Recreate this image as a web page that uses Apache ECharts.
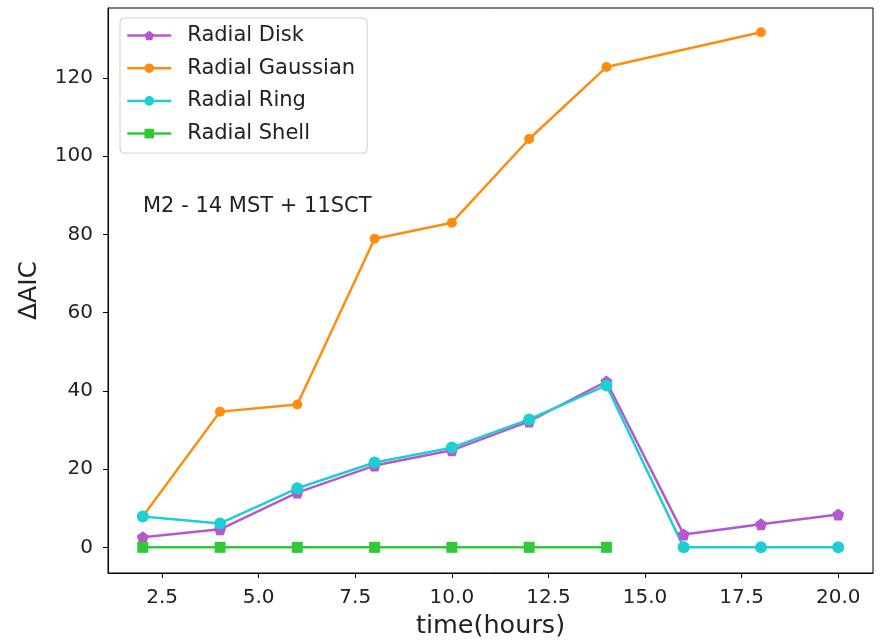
<!DOCTYPE html>
<html>
<head>
<meta charset="utf-8">
<script src="https://cdn.jsdelivr.net/npm/echarts@6/dist/echarts.min.js"></script>
<style>
  html, body { margin: 0; padding: 0; background: #fff; }
  #chart { width: 882px; height: 641px; }
</style>
</head>
<body>
<div id="chart"></div>
<script>
// Time in hours for each fit
const hours = [2, 4, 6, 8, 10, 12, 14, 16, 18, 20];

// ΔAIC per model (null where no fit was made)
const radialDisk     = [2.6, 4.6, 14.0, 20.9, 24.8, 32.2, 42.4, 3.3, 5.9, 8.4];
const radialGaussian = [7.9, 34.7, 36.5, 78.9, 83.0, 104.4, 122.8, null, 131.7, null];
const radialRing     = [7.9, 6.1, 15.1, 21.7, 25.5, 32.7, 41.4, 0, 0, 0];
const radialShell    = [0, 0, 0, 0, 0, 0, 0, null, null, null];

const xTicks = [2.5, 5.0, 7.5, 10.0, 12.5, 15.0, 17.5, 20.0];
const yTicks = [0, 20, 40, 60, 80, 100, 120];

const FONT = 'DejaVu Sans';

function pairs(values) {
  const out = [];
  values.forEach((v, i) => { if (v !== null) out.push([hours[i], v]); });
  return out;
}

const pentagon = 'path://M0,-1 L0.951,-0.309 L0.588,0.809 L-0.588,0.809 L-0.951,-0.309 Z';

function lineSeries(name, values, color, symbol, size) {
  return {
    name: name,
    type: 'line',
    data: pairs(values),
    symbol: symbol,
    symbolSize: size,
    showAllSymbol: true,
    connectNulls: true,
    lineStyle: { color: color, width: 2.5 },
    itemStyle: { color: color },
    emphasis: { disabled: true },
    animation: false
  };
}

const chart = echarts.init(document.getElementById('chart'), null, { renderer: 'canvas' });

chart.setOption({
  backgroundColor: '#ffffff',
  animation: false,
  grid: {
    left: 108, right: 9, top: 8, bottom: 68,
    outerBoundsMode: 'none',
    containLabel: false,
    show: true, borderColor: '#000', borderWidth: 1, backgroundColor: 'transparent'
  },
  legend: {
    left: 120, top: 18,
    orient: 'vertical',
    padding: [7, 12, 9, 6],
    itemWidth: 44, itemHeight: 12, itemGap: 11.7,
    lineStyle: { width: 2.5 },
    backgroundColor: 'rgba(255,255,255,0.8)',
    borderColor: '#d0d0d0', borderWidth: 1, borderRadius: 4,
    textStyle: { fontFamily: FONT, fontSize: 21, color: '#222', lineHeight: 20, padding: [0, 0, 0, 11] },
    data: ['Radial Disk', 'Radial Gaussian', 'Radial Ring', 'Radial Shell']
  },
  xAxis: {
    type: 'value',
    min: 1.1, max: 20.9,
    name: 'time(hours)',
    nameLocation: 'middle',
    nameGap: 40,
    nameTextStyle: { fontFamily: FONT, fontSize: 25.5, color: '#222' },
    axisLine: { show: true, onZero: false, lineStyle: { color: '#000', width: 1 } },
    axisTick: { show: true, inside: false, length: 5, lineStyle: { color: '#000' }, customValues: xTicks },
    axisLabel: {
      fontFamily: FONT, fontSize: 20, color: '#222', margin: 15,
      customValues: xTicks,
      formatter: v => v.toFixed(1)
    },
    splitLine: { show: false }
  },
  yAxis: {
    type: 'value',
    min: -6.56, max: 137.9,
    name: 'ΔAIC',
    nameLocation: 'middle',
    nameGap: 66,
    nameTextStyle: { fontFamily: FONT, fontSize: 25, color: '#222' },
    axisLine: { show: true, onZero: false, lineStyle: { color: '#000', width: 1 } },
    axisTick: { show: true, inside: false, length: 5, lineStyle: { color: '#000' }, customValues: yTicks },
    axisLabel: {
      fontFamily: FONT, fontSize: 20, color: '#222', margin: 15,
      customValues: yTicks,
      formatter: v => String(v)
    },
    splitLine: { show: false }
  },
  graphic: [{
    type: 'text',
    left: 143, top: 196,
    style: { text: 'M2 - 14 MST + 11SCT', font: '21px "DejaVu Sans"', fill: '#222' }
  }],
  series: [
    lineSeries('Radial Disk', radialDisk, '#b558d0', pentagon, 12),
    lineSeries('Radial Gaussian', radialGaussian, '#ff8c0f', 'circle', 10),
    lineSeries('Radial Ring', radialRing, '#1ecfd2', 'circle', 12),
    lineSeries('Radial Shell', radialShell, '#33c73a', 'rect', 11)
  ]
});
</script>
</body>
</html>
